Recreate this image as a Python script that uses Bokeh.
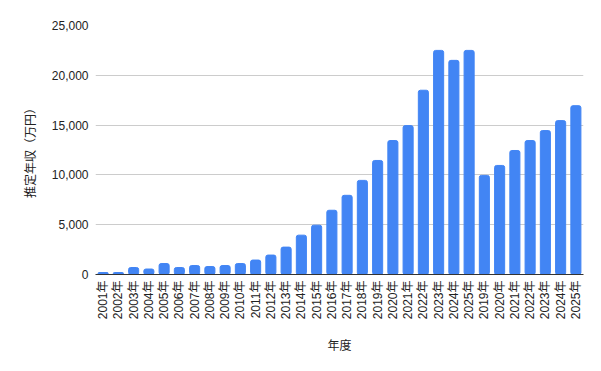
import math
from bokeh.plotting import figure
from bokeh.models import FixedTicker, Range1d, NumeralTickFormatter, ColumnDataSource, Title
from bokeh.embed import file_html
from bokeh.resources import INLINE

years = ["2001年", "2002年", "2003年", "2004年", "2005年", "2006年", "2007年", "2008年",
         "2009年", "2010年", "2011年", "2012年", "2013年", "2014年", "2015年", "2016年",
         "2017年", "2018年", "2019年", "2020年", "2021年", "2022年", "2023年", "2024年",
         "2025年", "2019年", "2020年", "2021年", "2022年", "2023年", "2024年", "2025年"]
income = [200, 200, 700, 550, 1100, 700, 900, 800, 900, 1100, 1450, 1950, 2750, 3950,
          4950, 6450, 7950, 9450, 11450, 13450, 14950, 18500, 22500, 21500, 22500,
          9950, 10950, 12450, 13450, 14450, 15450, 16950]
y_ticks = [0, 5000, 10000, 15000, 20000, 25000]

xs = list(range(len(years)))
src = ColumnDataSource(dict(x=xs, top=income))

FONT = "Liberation Sans, Noto Sans CJK JP"

p = figure(width=585, height=355, output_backend="svg", toolbar_location=None,
           x_range=Range1d(-0.5, len(years) - 0.5), y_range=Range1d(0, 25000),
           min_border_left=95, min_border_right=10, min_border_top=25, min_border_bottom=10)
p.frame_width = 488
p.frame_height = 249
p.outline_line_color = None
p.background_fill_color = "white"

p.vbar(x="x", top="top", width=0.66, source=src, color="#4285F4", border_radius=2)

p.xaxis.ticker = FixedTicker(ticks=xs)
p.xaxis.major_label_overrides = {i: years[i] for i in xs}
p.xaxis.major_label_orientation = math.pi / 2
p.xaxis.axis_label = "年度"
p.yaxis.ticker = FixedTicker(ticks=y_ticks)
p.yaxis.formatter = NumeralTickFormatter(format="0,0")

ylab = Title(text="推定年収（万円）", align="center", offset=-14, standoff=22,
             text_font=FONT, text_font_size="12px", text_font_style="normal",
             text_color="#222222")
p.add_layout(ylab, "left")

for ax in (p.xaxis, p.yaxis):
    ax.major_tick_line_color = None
    ax.minor_tick_line_color = None
    ax.major_tick_out = 0
    ax.major_label_text_font = FONT
    ax.major_label_text_font_size = "12px"
    ax.major_label_text_color = "#222222"
    ax.axis_label_text_font = FONT
    ax.axis_label_text_font_size = "12px"
    ax.axis_label_text_font_style = "normal"
    ax.axis_label_text_color = "#222222"

p.xaxis.axis_line_color = "#333333"
p.xaxis.axis_line_width = 1
p.yaxis.axis_line_color = None
p.xaxis.major_label_standoff = 6
p.xaxis.axis_label_standoff = 17
p.yaxis.major_label_standoff = 7

p.xgrid.grid_line_color = None
p.ygrid.grid_line_color = "#cccccc"
p.ygrid.ticker = FixedTicker(ticks=y_ticks)

open("out.html", "w").write(file_html(p, INLINE))
